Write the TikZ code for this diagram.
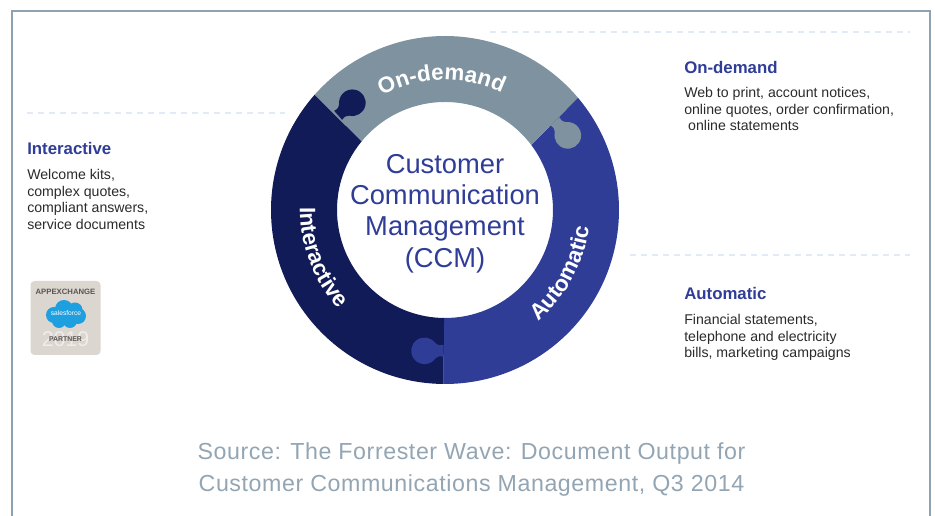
\documentclass[tikz,border=0pt]{standalone}
\usepackage{fontspec}
\setmainfont{Liberation Sans}
\newfontfamily\sourcefont[LetterSpace=2.5]{Liberation Sans}
\usetikzlibrary{positioning,decorations.text}
\definecolor{ccmnavy}{HTML}{111B58}
\definecolor{ccmblue}{HTML}{2F3D97}
\definecolor{ccmgray}{HTML}{7F929F}
\definecolor{ccmframe}{HTML}{8FA2B2}
\definecolor{ccmdash}{HTML}{E2E9F7}
\definecolor{ccmsource}{HTML}{93A5B3}
\definecolor{ccmbody}{HTML}{2A2A2A}
\definecolor{badgebg}{HTML}{DCD6D0}
\definecolor{badgetext}{HTML}{5A5552}
\definecolor{badgecloud}{HTML}{1E9FE0}
\newcommand{\ringlabel}{\fontsize{16.8}{18}\selectfont\bfseries\color{white}}
\tikzset{
    heading/.style={anchor=west,inner sep=0,text=ccmblue,font=\fontsize{12.6}{14}\selectfont\bfseries},
    bodytext/.style={anchor=north west,inner sep=0,align=left,text=ccmbody,font=\fontsize{10.6}{12.5}\selectfont},
    dashline/.style={ccmdash,line width=1.5pt,dash pattern=on 4.5pt off 3.75pt},
    ringtext/.style={decorate,decoration={text along path,text align=center,text={|\ringlabel|#1}}},
    jointtab/.pic={
        \path[pic actions] (0,-6) .. controls (4,-5) and (6,-5.5) .. (8.1,-7.6)
            arc[start angle=215,end angle=505,radius=13.3]
            .. controls (6,5.5) and (4,5) .. (0,6) -- cycle;
    }
}
\begin{document}
\begin{tikzpicture}[x=0.75pt,y=0.75pt]
    \useasboundingbox (0,0) rectangle (935,516);
    \draw[ccmframe,line width=1.4pt] (12,-2) -- (12,505) -- (930,505) -- (930,-2);

    \draw[dashline] (27,402.5) -- (285,402.5);
    \draw[dashline] (490,484) -- (910,484);
    \draw[dashline] (630,261) -- (910,261);

    %the ring
    \begin{scope}[shift={(445,306)}]
        \fill[ccmblue] (40.2:174) arc[start angle=40.2,end angle=-90.5,radius=174]
            -- (-90.5:108) arc[start angle=-90.5,end angle=37,radius=108] -- cycle;
        \fill[ccmnavy] (-90.5:174) arc[start angle=-90.5,end angle=-221.5,radius=174]
            -- (-219.5:108) arc[start angle=-219.5,end angle=-90.5,radius=108] -- cycle;
        \fill[ccmgray] (138.5:174) arc[start angle=138.5,end angle=40.2,radius=174]
            -- (37:108) arc[start angle=37,end angle=140.5,radius=108] -- cycle;
        \pic[fill=ccmnavy,rotate=41.5] at (-106.85,94.65) {jointtab};
        \pic[fill=ccmgray,rotate=-47.8] at (110,88.65) {jointtab};
        \pic[fill=ccmblue,rotate=180] at (-1.5,-140.8) {jointtab};

        \path[ringtext=On-demand] (126:130) arc[start angle=126,end angle=57,radius=130];
        \path[ringtext=Interactive] (177:145) arc[start angle=177,end angle=225,radius=145];
        \path[ringtext=Automatic] (-53:145) arc[start angle=-53,end angle=-4,radius=145];

        \node (ccm) [inner sep=0,align=center,text=ccmblue,font=\fontsize{20.5}{23.6}\selectfont] at (0,-3.5)
            {Customer\\Communication\\Management\\(CCM)};
    \end{scope}

    %the three texts
    \node (h1) [heading] at (27,367.5) {Interactive};
    \node (b1) [bodytext,below=14 of h1.south west,anchor=north west] {Welcome kits,\\complex quotes,\\compliant answers,\\service documents};
    \node (h2) [heading] at (684,448.5) {On-demand};
    \node (b2) [bodytext,below=13 of h2.south west,anchor=north west] {Web to print, account notices,\\online quotes, order confirmation,\\\ online statements};
    \node (h3) [heading] at (684,222.5) {Automatic};
    \node (b3) [bodytext,below=14 of h3.south west,anchor=north west] {Financial statements,\\telephone and electricity\\bills, marketing campaigns};

    %badge
    \node (badge) [fill=badgebg,rounded corners=3pt,minimum width=52.5pt,minimum height=55.5pt,inner sep=0] at (65.5,198) {};
    \node (exchange) [inner sep=0,text=badgetext,font=\fontsize{5.8}{6}\selectfont\bfseries] at (65.5,224) {APPEXCHANGE};
    \foreach \cx/\cy/\cr in {54/201/8,64/207/9,75/206/7.5,78/200/8,70/195/7,59/195/7,66/201/10}
        \fill[badgecloud] (\cx,\cy) circle[radius=\cr];
    \node (cloudname) [inner sep=0,text=white,font=\fontsize{5}{6}\selectfont] at (66,203) {salesforce};
    \node (year) [inner sep=0,text=white,text opacity=0.55,font=\fontsize{16}{18}\selectfont] at (65.5,176.5) {2019};
    \node (partner) [inner sep=0,text=badgetext,font=\fontsize{5.2}{6}\selectfont\bfseries] at (65.5,177) {PARTNER};

    \node (source) [inner sep=0,align=center,text=ccmsource,font=\fontsize{17.4}{24}\selectfont\sourcefont] at (471.5,46)
        {Source: The Forrester Wave: Document Output for\\Customer Communications Management, Q3 2014};
\end{tikzpicture}
\end{document}
